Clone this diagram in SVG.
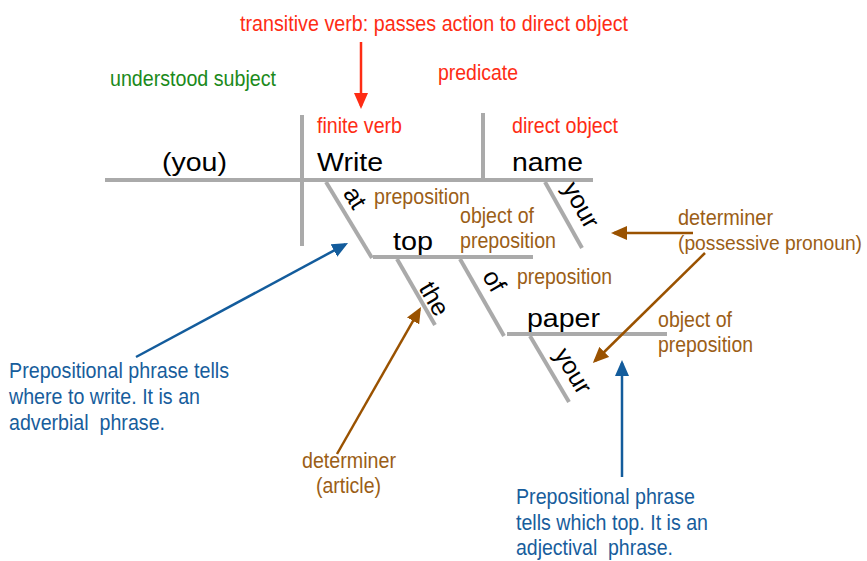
<svg xmlns="http://www.w3.org/2000/svg" width="867" height="561" viewBox="0 0 867 561">
<style>
text{font-family:"Liberation Sans",Arial,sans-serif}
.g{stroke:#aaaaaa;stroke-width:4;fill:none;stroke-linecap:butt}
.w{fill:#000;font-size:25px}
.red{fill:#fe2c14;font-size:21.5px}
.grn{fill:#1b8a1b;font-size:21.5px}
.brn{fill:#9b5e16;font-size:21.5px}
.blu{fill:#175d9c;font-size:22px}
.ar{fill:none;stroke-width:2.5}
</style>
<defs>
<marker id="mr" markerUnits="userSpaceOnUse" markerWidth="16" markerHeight="14" refX="13" refY="7" orient="auto"><path d="M0,0 L16,7 L0,14 z" fill="#fe2c14"/></marker>
<marker id="mb" markerUnits="userSpaceOnUse" markerWidth="16" markerHeight="14" refX="13" refY="7" orient="auto"><path d="M0,0 L16,7 L0,14 z" fill="#9a5200"/></marker>
<marker id="mu" markerUnits="userSpaceOnUse" markerWidth="16" markerHeight="14" refX="13" refY="7" orient="auto"><path d="M0,0 L16,7 L0,14 z" fill="#135c9c"/></marker>
</defs>

<g id="diagram-lines">
<line class="g" x1="105" y1="180" x2="593" y2="180"/>
<line class="g" x1="302" y1="115" x2="302" y2="246"/>
<line class="g" x1="483" y1="113" x2="483" y2="180"/>
<line class="g" x1="326" y1="182" x2="372" y2="258"/>
<line class="g" x1="373" y1="257" x2="533" y2="257"/>
<line class="g" x1="397" y1="259" x2="435" y2="325"/>
<line class="g" x1="460" y1="259" x2="504" y2="336"/>
<line class="g" x1="507" y1="334" x2="667" y2="334"/>
<line class="g" x1="530" y1="336" x2="569" y2="402"/>
<line class="g" x1="545" y1="182" x2="582" y2="248"/>
</g>

<g id="words">
<text class="w" x="162" y="171" textLength="65" lengthAdjust="spacingAndGlyphs">(you)</text>
<text class="w" x="317" y="171" textLength="66" lengthAdjust="spacingAndGlyphs">Write</text>
<text class="w" x="512" y="171" textLength="71" lengthAdjust="spacingAndGlyphs">name</text>
<text class="w" x="393" y="250" textLength="40" lengthAdjust="spacingAndGlyphs">top</text>
<text class="w" x="527" y="327" textLength="73" lengthAdjust="spacingAndGlyphs">paper</text>
<text class="w" text-anchor="middle" transform="translate(348,202) rotate(58)">at</text>
<text class="w" text-anchor="middle" transform="translate(427,303) rotate(60)">the</text>
<text class="w" text-anchor="middle" transform="translate(487,285) rotate(60)">of</text>
<text class="w" text-anchor="middle" transform="translate(574,209) rotate(60.7)">your</text>
<text class="w" text-anchor="middle" transform="translate(566,375) rotate(59)">your</text>
</g>

<g id="labels">
<text class="red" x="240" y="31" textLength="388" lengthAdjust="spacingAndGlyphs">transitive verb: passes action to direct object</text>
<text class="grn" x="110" y="86" textLength="166" lengthAdjust="spacingAndGlyphs">understood subject</text>
<text class="red" x="438" y="80" textLength="80" lengthAdjust="spacingAndGlyphs">predicate</text>
<text class="red" x="317" y="133" textLength="85" lengthAdjust="spacingAndGlyphs">finite verb</text>
<text class="red" x="512" y="133" textLength="106" lengthAdjust="spacingAndGlyphs">direct object</text>
<text class="brn" x="374" y="204" textLength="96" lengthAdjust="spacingAndGlyphs">preposition</text>
<text class="brn" x="460" y="223" textLength="74" lengthAdjust="spacingAndGlyphs">object of</text>
<text class="brn" x="460" y="248" textLength="96" lengthAdjust="spacingAndGlyphs">preposition</text>
<text class="brn" x="517" y="284" textLength="95" lengthAdjust="spacingAndGlyphs">preposition</text>
<text class="brn" x="658" y="327" textLength="74" lengthAdjust="spacingAndGlyphs">object of</text>
<text class="brn" x="658" y="352" textLength="95" lengthAdjust="spacingAndGlyphs">preposition</text>
<text class="brn" x="678" y="225" textLength="95" lengthAdjust="spacingAndGlyphs">determiner</text>
<text class="brn" x="678" y="250" style="font-size:19.5px" textLength="184" lengthAdjust="spacingAndGlyphs">(possessive pronoun)</text>
<text class="brn" x="302" y="468" textLength="94" lengthAdjust="spacingAndGlyphs">determiner</text>
<text class="brn" x="316" y="493" textLength="65" lengthAdjust="spacingAndGlyphs">(article)</text>
<text class="blu" x="9" y="378" textLength="220" lengthAdjust="spacingAndGlyphs">Prepositional phrase tells</text>
<text class="blu" x="9" y="404" textLength="191" lengthAdjust="spacingAndGlyphs">where to write. It is an</text>
<text class="blu" x="9" y="430" textLength="156" lengthAdjust="spacingAndGlyphs" xml:space="preserve">adverbial  phrase.</text>
<text class="blu" x="516" y="504" textLength="179" lengthAdjust="spacingAndGlyphs">Prepositional phrase</text>
<text class="blu" x="516" y="530" textLength="192" lengthAdjust="spacingAndGlyphs">tells which top. It is an</text>
<text class="blu" x="516" y="555" textLength="157" lengthAdjust="spacingAndGlyphs" xml:space="preserve">adjectival  phrase.</text>
</g>

<g id="connectors">
<line class="ar" stroke="#fe2c14" x1="361" y1="42" x2="361" y2="106" marker-end="url(#mr)"/>
<line class="ar" stroke="#9a5200" x1="693" y1="233" x2="614" y2="233" marker-end="url(#mb)"/>
<line class="ar" stroke="#9a5200" x1="705" y1="253" x2="595" y2="361" marker-end="url(#mb)"/>
<line class="ar" stroke="#9a5200" x1="337" y1="454" x2="419.5" y2="309.6" marker-end="url(#mb)"/>
<line class="ar" stroke="#135c9c" x1="136" y1="357" x2="345.4" y2="244.4" marker-end="url(#mu)"/>
<line class="ar" stroke="#135c9c" x1="622" y1="477" x2="622" y2="363" marker-end="url(#mu)"/>
</g>
</svg>
